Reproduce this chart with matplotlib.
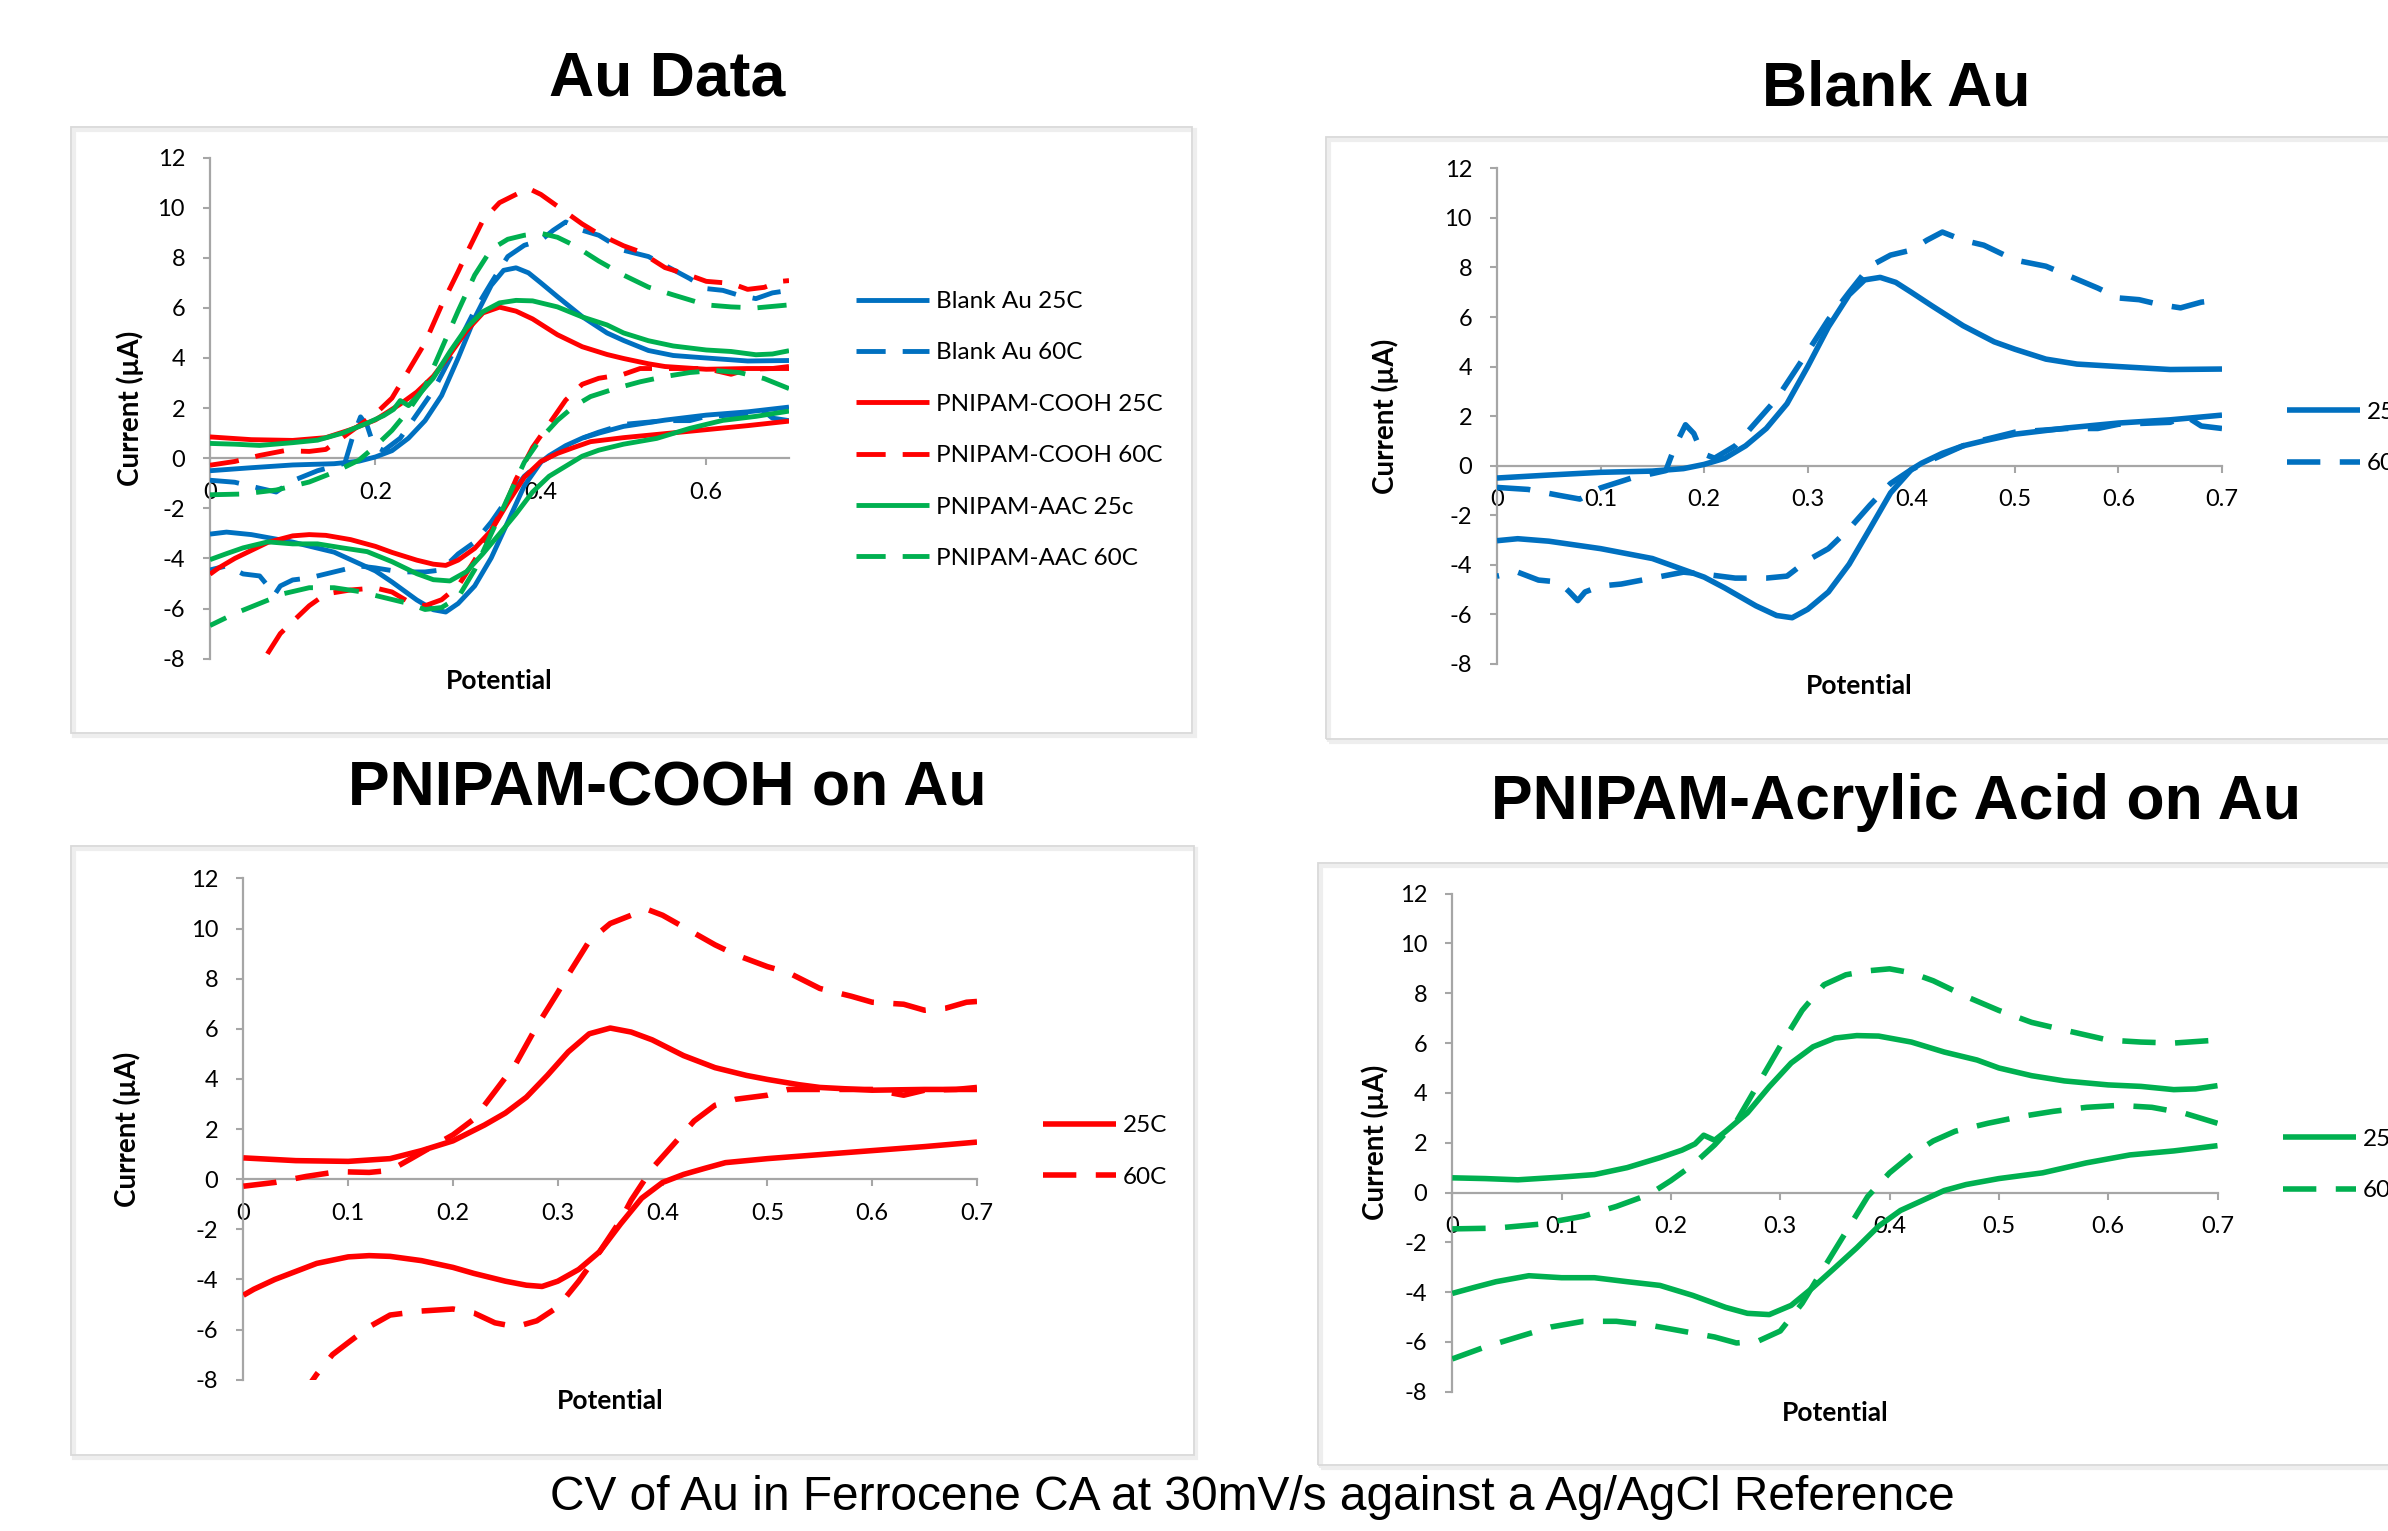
import matplotlib
matplotlib.use('Agg')
import matplotlib.pyplot as plt
from matplotlib.patches import Rectangle

# ---------------- data (potential in V, current in µA) ----------------
# Blank Au 25C
blank25_up_x = [0, 0.05, 0.1, 0.15, 0.18, 0.2, 0.22, 0.24, 0.26, 0.28, 0.3, 0.32, 0.34, 0.355, 0.37, 0.385, 0.4, 0.42, 0.45, 0.48, 0.5, 0.53, 0.56, 0.6, 0.65, 0.7]
blank25_up_y = [-0.5, -0.38, -0.27, -0.22, -0.12, 0.05, 0.3, 0.8, 1.5, 2.5, 4.0, 5.6, 6.9, 7.5, 7.6, 7.4, 7.0, 6.45, 5.65, 5.0, 4.7, 4.3, 4.1, 4.0, 3.88, 3.9]
blank25_dn_x = [0.7, 0.65, 0.6, 0.55, 0.5, 0.47, 0.45, 0.43, 0.41, 0.4, 0.38, 0.36, 0.34, 0.32, 0.3, 0.285, 0.27, 0.25, 0.22, 0.2, 0.15, 0.1, 0.05, 0.02, 0]
blank25_dn_y = [2.04, 1.85, 1.72, 1.52, 1.27, 1.0, 0.8, 0.5, 0.1, -0.16, -1.1, -2.55, -3.98, -5.1, -5.8, -6.14, -6.05, -5.66, -4.94, -4.5, -3.75, -3.35, -3.05, -2.95, -3.03]

# Blank Au 60C
blank60_up_x = [0, 0.03, 0.06, 0.08, 0.1, 0.13, 0.15, 0.163, 0.172, 0.182, 0.19, 0.198, 0.21, 0.23, 0.25, 0.27, 0.3, 0.32, 0.34, 0.36, 0.38, 0.4, 0.415, 0.43, 0.45, 0.47, 0.5, 0.53, 0.55, 0.58, 0.6, 0.62, 0.64, 0.66, 0.68, 0.7]
blank60_up_y = [-0.88, -0.96, -1.2, -1.35, -0.9, -0.5, -0.32, -0.2, 0.8, 1.65, 1.3, 0.5, 0.3, 0.8, 1.75, 2.7, 4.6, 5.9, 7.0, 8.05, 8.5, 8.7, 9.1, 9.43, 9.1, 8.9, 8.3, 8.05, 7.7, 7.17, 6.77, 6.7, 6.5, 6.37, 6.6, 6.7]
blank60_dn_x = [0.7, 0.68, 0.665, 0.65, 0.6, 0.58, 0.55, 0.5, 0.47, 0.45, 0.42, 0.4, 0.38, 0.36, 0.34, 0.32, 0.3, 0.28, 0.26, 0.23, 0.2, 0.18, 0.15, 0.12, 0.1, 0.085, 0.078, 0.07, 0.06, 0.04, 0.02, 0]
blank60_dn_y = [1.5, 1.6, 2.0, 1.75, 1.67, 1.5, 1.5, 1.35, 1.04, 0.8, 0.24, -0.16, -0.72, -1.6, -2.55, -3.35, -3.82, -4.46, -4.54, -4.54, -4.38, -4.3, -4.54, -4.78, -4.86, -5.1, -5.45, -5.1, -4.7, -4.62, -4.3, -4.46]

# PNIPAM-COOH 25C
cooh25_up_x = [0, 0.05, 0.1, 0.14, 0.17, 0.2, 0.23, 0.25, 0.27, 0.29, 0.31, 0.33, 0.35, 0.37, 0.39, 0.42, 0.45, 0.48, 0.5, 0.53, 0.55, 0.6, 0.65, 0.7]
cooh25_up_y = [0.85, 0.74, 0.71, 0.82, 1.14, 1.53, 2.16, 2.64, 3.27, 4.14, 5.08, 5.8, 6.03, 5.87, 5.56, 4.93, 4.45, 4.14, 3.98, 3.77, 3.66, 3.55, 3.58, 3.58]
cooh25_dn_x = [0.7, 0.65, 0.6, 0.55, 0.5, 0.46, 0.44, 0.42, 0.4, 0.38, 0.36, 0.34, 0.32, 0.3, 0.285, 0.27, 0.25, 0.22, 0.2, 0.17, 0.14, 0.12, 0.1, 0.07, 0.05, 0.03, 0.01, 0]
cooh25_dn_y = [1.48, 1.3, 1.14, 0.98, 0.82, 0.66, 0.43, 0.19, -0.13, -0.76, -1.78, -2.89, -3.6, -4.07, -4.28, -4.23, -4.07, -3.76, -3.52, -3.25, -3.08, -3.05, -3.1, -3.36, -3.68, -4.0, -4.39, -4.63]

# PNIPAM-COOH 60C
cooh60_up_x = [0, 0.03, 0.06, 0.09, 0.12, 0.14, 0.16, 0.18, 0.2, 0.22, 0.24, 0.26, 0.28, 0.3, 0.31, 0.33, 0.35, 0.37, 0.385, 0.4, 0.42, 0.45, 0.47, 0.5, 0.52, 0.55, 0.58, 0.6, 0.63, 0.65, 0.67, 0.69, 0.7]
cooh60_up_y = [-0.28, -0.13, 0.11, 0.3, 0.27, 0.35, 0.82, 1.3, 1.77, 2.4, 3.5, 4.61, 6.11, 7.45, 8.16, 9.5, 10.2, 10.53, 10.77, 10.53, 10.06, 9.35, 8.95, 8.48, 8.24, 7.61, 7.3, 7.06, 6.98, 6.74, 6.82, 7.06, 7.09]
cooh60_dn_x = [0.7, 0.68, 0.65, 0.63, 0.6, 0.55, 0.52, 0.5, 0.47, 0.45, 0.43, 0.41, 0.39, 0.37, 0.36, 0.34, 0.32, 0.3, 0.28, 0.26, 0.24, 0.22, 0.2, 0.17, 0.14, 0.12, 0.1, 0.085, 0.07, 0.063]
cooh60_dn_y = [3.66, 3.58, 3.55, 3.35, 3.58, 3.58, 3.58, 3.35, 3.19, 2.95, 2.32, 1.37, 0.43, -0.84, -1.63, -2.89, -4.07, -5.1, -5.65, -5.89, -5.73, -5.34, -5.18, -5.26, -5.42, -5.89, -6.52, -7.0, -7.78, -8.2]

# PNIPAM-AAc 25C
aac25_up_x = [0, 0.03, 0.06, 0.1, 0.13, 0.16, 0.19, 0.21, 0.222, 0.23, 0.24, 0.25, 0.27, 0.29, 0.31, 0.33, 0.35, 0.37, 0.39, 0.42, 0.45, 0.48, 0.5, 0.53, 0.56, 0.6, 0.63, 0.66, 0.68, 0.7]
aac25_up_y = [0.59, 0.56, 0.51, 0.62, 0.72, 1.0, 1.4, 1.7, 1.95, 2.3, 2.1, 2.45, 3.2, 4.25, 5.2, 5.85, 6.2, 6.3, 6.28, 6.04, 5.64, 5.32, 5.0, 4.69, 4.48, 4.32, 4.26, 4.13, 4.16, 4.29]
aac25_dn_x = [0.7, 0.66, 0.62, 0.58, 0.54, 0.5, 0.47, 0.45, 0.43, 0.41, 0.39, 0.37, 0.35, 0.33, 0.31, 0.29, 0.27, 0.25, 0.22, 0.19, 0.16, 0.13, 0.1, 0.07, 0.04, 0.02, 0]
aac25_dn_y = [1.88, 1.67, 1.51, 1.19, 0.79, 0.56, 0.32, 0.08, -0.32, -0.72, -1.35, -2.22, -3.02, -3.81, -4.53, -4.9, -4.85, -4.61, -4.13, -3.73, -3.58, -3.42, -3.42, -3.34, -3.58, -3.81, -4.05]

# PNIPAM-AAc 60C
aac60_up_x = [0, 0.04, 0.08, 0.12, 0.15, 0.18, 0.2, 0.22, 0.24, 0.26, 0.28, 0.3, 0.32, 0.34, 0.36, 0.38, 0.4, 0.42, 0.44, 0.47, 0.5, 0.53, 0.56, 0.6, 0.63, 0.66, 0.7]
aac60_up_y = [-1.46, -1.43, -1.27, -0.95, -0.56, -0.08, 0.48, 1.11, 1.91, 2.86, 4.37, 5.88, 7.31, 8.34, 8.74, 8.9, 8.98, 8.82, 8.5, 7.87, 7.31, 6.83, 6.52, 6.12, 6.04, 6.0, 6.12]
aac60_dn_x = [0.7, 0.67, 0.64, 0.61, 0.58, 0.55, 0.52, 0.49, 0.46, 0.44, 0.42, 0.4, 0.38, 0.36, 0.34, 0.32, 0.3, 0.28, 0.26, 0.24, 0.21, 0.18, 0.15, 0.12, 0.09, 0.06, 0.03, 0]
aac60_dn_y = [2.78, 3.18, 3.42, 3.5, 3.42, 3.26, 3.05, 2.78, 2.46, 2.07, 1.51, 0.79, -0.16, -1.59, -3.02, -4.45, -5.56, -5.96, -6.04, -5.8, -5.56, -5.32, -5.17, -5.17, -5.4, -5.8, -6.2, -6.68]

y_ticks = [-8, -6, -4, -2, 0, 2, 4, 6, 8, 10, 12]
y_tick_labels = ['-8', '-6', '-4', '-2', '0', '2', '4', '6', '8', '10', '12']
x_ticks_overview = [0, 0.2, 0.4, 0.6]
x_tick_labels_overview = ['0', '0.2', '0.4', '0.6']
x_ticks_detail = [0, 0.1, 0.2, 0.3, 0.4, 0.5, 0.6, 0.7]
x_tick_labels_detail = ['0', '0.1', '0.2', '0.3', '0.4', '0.5', '0.6', '0.7']

overview_labels = ['Blank Au 25C', 'Blank Au 60C', 'PNIPAM-COOH 25C', 'PNIPAM-COOH 60C', 'PNIPAM-AAC 25c', 'PNIPAM-AAC 60C']
temp_labels = ['25C', '60C']

titles = ['Au Data', 'Blank Au', 'PNIPAM-COOH on Au', 'PNIPAM-Acrylic Acid on Au']
footer = 'CV of Au in Ferrocene CA at 30mV/s against a Ag/AgCl Reference'

# ---------------- styling ----------------
BLUE = '#0070C0'
RED = '#FF0000'
GREEN = '#00B050'
AXC = '#A6A6A6'

W, H = 2388, 1531
plt.rcParams['font.family'] = ['Lato', 'DejaVu Sans']
plt.rcParams['axes.unicode_minus'] = False
fig = plt.figure(figsize=(W / 100, H / 100), dpi=100)
fig.patch.set_facecolor('white')


def frame(x0, y0, x1, y1):
    fig.patches.append(Rectangle((x0 / W + 2.5 / W, 1 - y1 / H - 2.5 / H), (x1 - x0) / W, (y1 - y0) / H,
                                 transform=fig.transFigure, fill=False, ec='#EEEEEE', lw=3, zorder=0))
    fig.patches.append(Rectangle((x0 / W, 1 - y1 / H), (x1 - x0) / W, (y1 - y0) / H,
                                 transform=fig.transFigure, fill=False, ec='#D9D9D9', lw=1.3, zorder=0))


def make_axes(l, r, t, b):
    return fig.add_axes([l / W, 1 - b / H, (r - l) / W, (b - t) / H])


def style(ax, xt, xtl, ylab_off, xlab_y, l, r, t, b):
    ax.set_xlim(0, 0.7)
    ax.set_ylim(-8, 12)
    ax.set_facecolor('none')
    for s in ['top', 'right']:
        ax.spines[s].set_visible(False)
    ax.spines['bottom'].set_position(('data', 0))
    for s in ['left', 'bottom']:
        ax.spines[s].set_color(AXC)
        ax.spines[s].set_linewidth(1.6)
    ax.set_yticks(y_ticks)
    ax.set_yticklabels(y_tick_labels)
    ax.set_xticks(xt)
    ax.set_xticklabels(xtl)
    ax.tick_params(axis='both', direction='out', length=5, width=1.5, color=AXC,
                   labelsize=17, labelcolor='black')
    ax.tick_params(axis='x', pad=12)
    ax.tick_params(axis='y', pad=13)
    ax.set_ylabel('Current (µA)', fontsize=20, fontweight='bold')
    ax.yaxis.label.set_va('center')
    ax.yaxis.set_label_coords(-ylab_off / (r - l), 0.5)
    ax.set_xlabel('Potential', fontsize=19, fontweight='bold')
    ax.xaxis.label.set_va('center')
    ax.xaxis.set_label_coords(0.5, -(xlab_y - b) / (b - t))


def cv(ax, ux, uy, dx, dy, color, dashed, lw, label):
    ls = (0, (6, 3.5)) if dashed else '-'
    kw = dict(color=color, lw=lw, ls=ls, zorder=3, solid_joinstyle='round',
              solid_capstyle='butt', dash_capstyle='butt')
    ax.plot(ux, uy, label=label, **kw)
    ax.plot(dx, dy, label='_nolegend_', **kw)


def legend(ax, xline, ycen):
    ax.legend(loc='center left', bbox_to_anchor=(xline / W, 1 - ycen / H),
              bbox_transform=fig.transFigure, frameon=False, fontsize=17.5,
              borderpad=0, borderaxespad=0, handlelength=3.0, handletextpad=0.3,
              labelspacing=1.25)


# frames
frame(71, 127, 1192, 733)
frame(1326, 137, 2400, 739)
frame(71, 846, 1194, 1455)
frame(1318, 863, 2400, 1465)

# ---- Panel 1: Au Data ----
l, r, t, b = 210, 789, 157.6, 658.6
ax1 = make_axes(l, r, t, b)
cv(ax1, blank25_up_x, blank25_up_y, blank25_dn_x, blank25_dn_y, BLUE, False, 3.5, overview_labels[0])
cv(ax1, blank60_up_x, blank60_up_y, blank60_dn_x, blank60_dn_y, BLUE, True, 3.5, overview_labels[1])
cv(ax1, cooh25_up_x, cooh25_up_y, cooh25_dn_x, cooh25_dn_y, RED, False, 3.5, overview_labels[2])
cv(ax1, cooh60_up_x, cooh60_up_y, cooh60_dn_x, cooh60_dn_y, RED, True, 3.5, overview_labels[3])
cv(ax1, aac25_up_x, aac25_up_y, aac25_dn_x, aac25_dn_y, GREEN, False, 3.5, overview_labels[4])
cv(ax1, aac60_up_x, aac60_up_y, aac60_dn_x, aac60_dn_y, GREEN, True, 3.5, overview_labels[5])
style(ax1, x_ticks_overview, x_tick_labels_overview, 80, 681, l, r, t, b)
legend(ax1, 856, 430)

# ---- Panel 2: Blank Au ----
l, r, t, b = 1497, 2222, 168.4, 663.8
ax2 = make_axes(l, r, t, b)
cv(ax2, blank25_up_x, blank25_up_y, blank25_dn_x, blank25_dn_y, BLUE, False, 4, temp_labels[0])
cv(ax2, blank60_up_x, blank60_up_y, blank60_dn_x, blank60_dn_y, BLUE, True, 4, temp_labels[1])
style(ax2, x_ticks_detail, x_tick_labels_detail, 112, 686, l, r, t, b)
legend(ax2, 2287, 438)

# ---- Panel 3: PNIPAM-COOH ----
l, r, t, b = 243.4, 977, 878.4, 1379.7
ax3 = make_axes(l, r, t, b)
cv(ax3, cooh25_up_x, cooh25_up_y, cooh25_dn_x, cooh25_dn_y, RED, False, 4, temp_labels[0])
cv(ax3, cooh60_up_x, cooh60_up_y, cooh60_dn_x, cooh60_dn_y, RED, True, 4, temp_labels[1])
style(ax3, x_ticks_detail, x_tick_labels_detail, 116, 1401, l, r, t, b)
legend(ax3, 1043, 1151.5)

# ---- Panel 4: PNIPAM-AAc ----
l, r, t, b = 1452.3, 2217.5, 893.6, 1391.8
ax4 = make_axes(l, r, t, b)
cv(ax4, aac25_up_x, aac25_up_y, aac25_dn_x, aac25_dn_y, GREEN, False, 4, temp_labels[0])
cv(ax4, aac60_up_x, aac60_up_y, aac60_dn_x, aac60_dn_y, GREEN, True, 4, temp_labels[1])
style(ax4, x_ticks_detail, x_tick_labels_detail, 77, 1413, l, r, t, b)
legend(ax4, 2283, 1165)

# ---- titles ----
title_pos = [(667, 96), (1896, 106), (667, 806), (1896, 819)]
for txt, (tx, ty) in zip(titles, title_pos):
    fig.text(tx / W, 1 - ty / H, txt, ha='center', va='baseline', fontsize=45,
             fontweight='bold', family=['Liberation Sans', 'DejaVu Sans'])

fig.text(1252 / W, 1 - 1510 / H, footer, ha='center', va='baseline', fontsize=34.5,
         family=['Liberation Sans', 'DejaVu Sans'])

fig.savefig('out.png', dpi=100)
